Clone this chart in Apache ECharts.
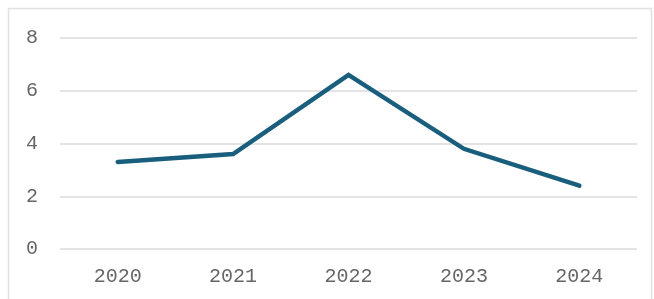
<!DOCTYPE html>
<html>
<head>
<meta charset="utf-8">
<script src="https://cdn.jsdelivr.net/npm/echarts@6/dist/echarts.min.js"></script>
<style>
  html, body { margin: 0; padding: 0; background: #fff; }
  #chart { width: 654px; height: 299px; }
</style>
</head>
<body>
<div id="chart"></div>
<script>
// data
let years = ['2020', '2021', '2022', '2023', '2024'];
let values = [3.3, 3.6, 6.6, 3.8, 2.4];
let yTicks = [0, 2, 4, 6, 8];

let labelFont = {
    fontFamily: 'Liberation Mono',
    fontSize: 20,
    color: '#666666'
};

let chart = echarts.init(document.getElementById('chart'));

let option = {
    animation: false,
    backgroundColor: '#fff',
    graphic: [{
        type: 'rect',
        shape: { x: 8.5, y: 8.5, width: 643, height: 310 },
        style: { fill: 'none', stroke: '#e0e0e0', lineWidth: 1.5 },
        silent: true
    }],
    grid: { left: 60, right: 17, top: 38, bottom: 50 },
    xAxis: {
        type: 'category',
        data: years,
        boundaryGap: true,
        axisLine: { show: false },
        axisTick: { show: false },
        axisLabel: Object.assign({ margin: 18 }, labelFont)
    },
    yAxis: {
        type: 'value',
        min: yTicks[0],
        max: yTicks[yTicks.length - 1],
        interval: 2,
        axisLine: { show: false },
        axisTick: { show: false },
        axisLabel: Object.assign({ margin: 22 }, labelFont),
        splitLine: { lineStyle: { color: '#dadada', width: 1.5 } }
    },
    series: [{
        type: 'line',
        data: values,
        symbol: 'none',
        lineStyle: { color: '#1a5e7d', width: 4.5, cap: 'round', join: 'miter' }
    }]
};

chart.setOption(option);
</script>
</body>
</html>
